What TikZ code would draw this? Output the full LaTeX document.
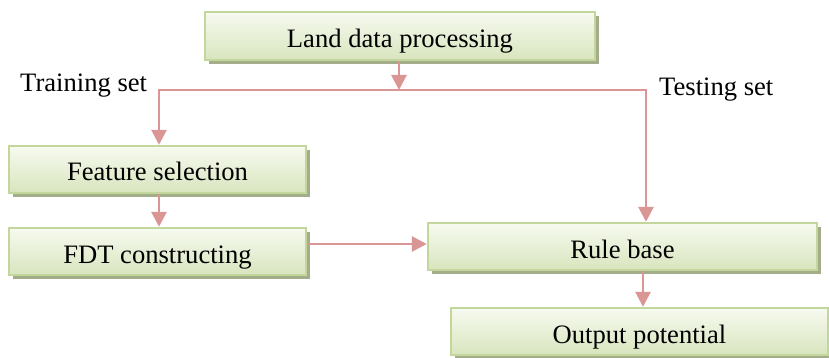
\documentclass[tikz,border=0pt]{standalone}
\usepackage{fontspec}
\setmainfont{Liberation Serif}
\usetikzlibrary{arrows.meta,shadows}
\definecolor{arr}{HTML}{D99694}
\definecolor{bord}{HTML}{C3D69B}
\definecolor{shad}{HTML}{A4AD8A}
\definecolor{ftop}{HTML}{F7FAF0}
\definecolor{fbot}{HTML}{D8E5BE}
\tikzset{
  box/.style={draw=bord, line width=2.4pt, top color=ftop, bottom color=fbot,
    inner sep=0pt, text height=23pt, text depth=0pt,
    minimum height=47pt,
    drop shadow={shadow xshift=4pt, shadow yshift=-4pt, fill=shad, opacity=1}},
  conn/.style={draw=arr, line width=2.8pt, -{Triangle[length=15pt,width=15pt]}},
  plain/.style={draw=arr, line width=2.8pt},
  lab/.style={inner sep=0pt, anchor=base west}
}
\begin{document}
\begin{tikzpicture}[x=1pt,y=-1pt,font=\fontsize{26.6}{30}\selectfont]
\useasboundingbox (0,0) rectangle (829,358);
\node[box, minimum width=390pt, minimum height=48pt] (land) at (400,36) {Land data processing};
\node[box, minimum width=297pt] (feat) at (157.5,169.5) {Feature selection};
\node[box, minimum width=297pt] (fdt) at (157.5,251.5) {FDT constructing};
\node[box, minimum width=389pt] (rule) at (622.5,246.5) {Rule base};
\node[box, minimum width=377pt] (out) at (639.5,331.5) {Output potential};
\coordinate (j) at (399,90);
\coordinate (jl) at (159,90);
\coordinate (jr) at (646,90);
\node[lab] (train) at (20,92) {Training set};
\node[lab] (test) at (659,96) {Testing set};
\draw[conn] (land.south -| j) -- (j);
\draw[plain] (jl) -- (jr);
\draw[conn] ([yshift=1.4pt]jl) -- (jl |- feat.north);
\draw[conn] ([yshift=1.4pt]jr) -- (jr |- rule.north);
\draw[conn] (feat.south -| jl) -- (fdt.north -| jl);
\draw[conn] (fdt.east |- 0,244) -- (rule.west |- 0,244);
\draw[conn] (rule.south -| 643,0) -- (out.north -| 643,0);
\end{tikzpicture}
\end{document}
